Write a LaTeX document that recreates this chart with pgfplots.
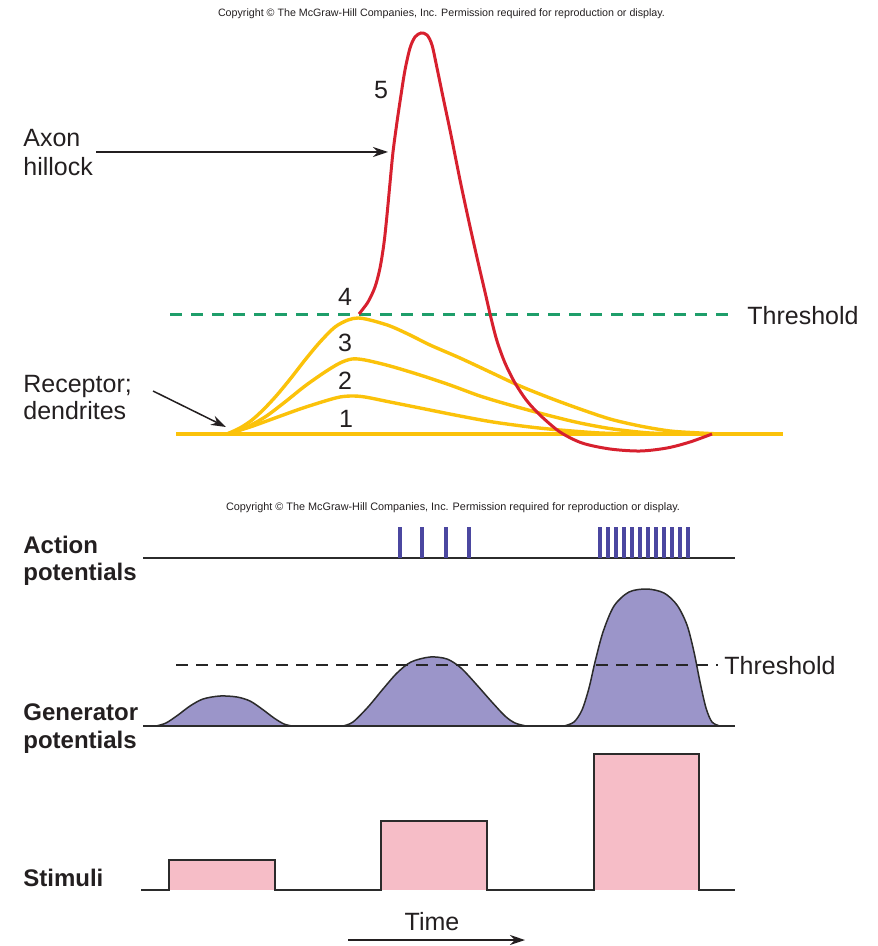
\documentclass[border=0pt]{standalone}
\usepackage{pgfplots}
\pgfplotsset{compat=1.18}
\usepackage{fontspec}
\setmainfont{Liberation Sans}
\usetikzlibrary{arrows.meta}
\definecolor{apred}{HTML}{D7202E}
\definecolor{gold}{HTML}{FBC20A}
\definecolor{thgreen}{HTML}{1E9E6A}
\definecolor{spike}{HTML}{4B47A0}
\definecolor{genfill}{HTML}{9B95C9}
\definecolor{stimfill}{HTML}{F6BDC7}
\definecolor{outline}{HTML}{2B2B2B}
\definecolor{txt}{HTML}{231F20}
\newcommand\lab{\fontsize{12.5}{15}\selectfont}
\newcommand\blab{\fontsize{12}{14}\selectfont\bfseries}
\begin{document}
\begin{tikzpicture}
\begin{axis}[scale only axis, width=438.5pt, height=473pt,
  xmin=0, xmax=877, ymin=0, ymax=946, y dir=reverse,
  hide axis, clip=false, unbounded coords=jump]
\path (axis cs:0,0) rectangle (axis cs:877,946);
% ---------- top panel ----------
% threshold
\addplot[thgreen, line width=1.5pt, dash pattern=on 6pt off 4.5pt] coordinates {(170,315) (736,315)};
% yellow baseline and graded potentials
\addplot[gold, line width=1.7pt] coordinates {(176,434) (783,434)};
\addplot[gold, line width=1.7pt, smooth] coordinates {
(227,434) (240,428) (252,420) (264,409) (277,395) (291,378) (305,360) (320,342) (335,327) (348,320) (358,318) (370,320) (390,326) (410,335) (430,345) (460,358) (490,372) (520,386) (550,398) (580,409) (610,419) (640,426) (670,431) (700,433) (720,434)};
\addplot[gold, line width=1.7pt, smooth] coordinates {
(227,434) (245,428) (265,417) (285,402) (305,386) (325,372) (340,363) (352,359) (365,360) (390,366) (420,375) (450,385) (480,396) (510,405) (547,415) (580,423) (613,429) (650,433) (690,434)};
\addplot[gold, line width=1.7pt, smooth] coordinates {
(227,434) (250,427) (275,418) (300,409) (325,401) (340,397) (352,396) (365,397) (390,402) (420,408) (460,416) (493,422) (530,427) (560,430) (600,433) (640,434)};
% action potential
\addplot[apred, line width=1.5pt, smooth, tension=0.5] coordinates {
(359,314) (368,302) (375,287) (380,268) (384,243) (387,215) (390,183) (393,152) (397,122) (401,95) (405,70) (410,48) (415,37) (421,33) (427,35) (432,45) (437,68) (443,97) (451,135) (460,180) (469,222) (478,262) (485,292) (491,318) (497,341) (505,363) (515,383) (527,401) (541,416) (560,432) (582,443) (610,449) (640,451) (667,448) (690,442) (712,434)};
% labels
\node[anchor=base, inner sep=0] at (axis cs:441.5,17) {\resizebox{223.5pt}{!}{\fontsize{4.8}{6}\selectfont\color{txt}Copyright © The McGraw-Hill Companies, Inc. Permission required for reproduction or display.}};
\node[anchor=base west, inner sep=0, txt] at (axis cs:23,147) {\lab Axon};
\node[anchor=base west, inner sep=0, txt] at (axis cs:23,176) {\lab hillock};
\node[anchor=base west, inner sep=0, txt] at (axis cs:23,392) {\lab Receptor;};
\node[anchor=base west, inner sep=0, txt] at (axis cs:23,419) {\lab dendrites};
\node[anchor=base, inner sep=0, txt] at (axis cs:381,99) {\lab 5};
\node[anchor=base, inner sep=0, txt] at (axis cs:345,306) {\lab 4};
\node[anchor=base, inner sep=0, txt] at (axis cs:345,351) {\lab 3};
\node[anchor=base, inner sep=0, txt] at (axis cs:345,389) {\lab 2};
\node[anchor=base, inner sep=0, txt] at (axis cs:346,427) {\lab 1};
\node[anchor=base west, inner sep=0, txt] at (axis cs:747,324) {\lab Threshold};
\draw[txt, line width=0.75pt, -{Stealth[length=7.5pt, width=5pt]}] (axis cs:96,152) -- (axis cs:388,152);
\draw[txt, line width=0.75pt, -{Stealth[length=7.5pt, width=5pt]}] (axis cs:153,391) -- (axis cs:226,427);
% ---------- bottom panel ----------
\node[anchor=base, inner sep=0] at (axis cs:453,510) {\resizebox{227pt}{!}{\fontsize{4.8}{6}\selectfont\color{txt}Copyright © The McGraw-Hill Companies, Inc. Permission required for reproduction or display.}};
% action potentials
\addplot[outline, line width=0.75pt] coordinates {(143,558) (735,558)};
\addplot[spike, line width=2pt] coordinates {
(400,527) (400,558) (411,nan) (422,527) (422,558) (434,nan) (446,527) (446,558) (458,nan) (469,527) (469,558) (530,nan)
(600,527) (600,558) (604,nan) (608,527) (608,558) (612,nan) (616,527) (616,558) (620,nan) (624,527) (624,558) (628,nan)
(632,527) (632,558) (636,nan) (640,527) (640,558) (644,nan) (648,527) (648,558) (652,nan) (656,527) (656,558) (660,nan)
(664,527) (664,558) (668,nan) (672,527) (672,558) (676,nan) (680,527) (680,558) (684,nan) (688,527) (688,558)};
% generator potentials
\addplot[fill=genfill, draw=outline, line width=0.75pt, smooth] coordinates {
(156,726) (166,723) (178,715) (190,706) (203,699) (220,696) (237,697) (250,701) (262,709) (274,718) (284,724) (292,726)};
\addplot[fill=genfill, draw=outline, line width=0.75pt, smooth] coordinates {
(343,726) (353,722) (368,707) (383,689) (397,673) (411,662) (430,657) (447,659) (461,668) (476,684) (491,701) (505,716) (515,723) (526,726)};
\addplot[fill=genfill, draw=outline, line width=0.75pt, smooth] coordinates {
(564,726) (574,722) (582,710) (589,688) (595,662) (603,632) (614,606) (629,592) (647,589) (664,593) (677,605) (687,625) (694,652) (700,682) (706,708) (712,722) (720,726)};
\addplot[outline, line width=0.75pt] coordinates {(143,726) (735,726)};
\addplot[black!85, line width=1.3pt, dash pattern=on 6pt off 4pt] coordinates {(176,665) (718,665)};
\node[anchor=base west, inner sep=0, txt] at (axis cs:724,674) {\lab Threshold};
% stimuli
\addplot[fill=stimfill, draw=none] coordinates {(169,890) (169,860) (275,860) (275,890)};
\addplot[fill=stimfill, draw=none] coordinates {(381,890) (381,821) (487,821) (487,890)};
\addplot[fill=stimfill, draw=none] coordinates {(594,890) (594,754) (699,754) (699,890)};
\addplot[outline, line width=0.75pt] coordinates {(141,890) (169,890) (169,860) (275,860) (275,890) (381,890) (381,821) (487,821) (487,890) (594,890) (594,754) (699,754) (699,890) (735,890)};
% left labels
\node[anchor=base west, inner sep=0, txt] at (axis cs:23,553) {\blab Action};
\node[anchor=base west, inner sep=0, txt] at (axis cs:23,580) {\blab potentials};
\node[anchor=base west, inner sep=0, txt] at (axis cs:23,720) {\blab Generator};
\node[anchor=base west, inner sep=0, txt] at (axis cs:23,748) {\blab potentials};
\node[anchor=base west, inner sep=0, txt] at (axis cs:23,886) {\blab Stimuli};
% time
\node[anchor=base, inner sep=0, txt] at (axis cs:432,930) {\lab Time};
\draw[txt, line width=0.75pt, -{Stealth[length=7.5pt, width=5pt]}] (axis cs:348,940) -- (axis cs:525,940);
\end{axis}
\end{tikzpicture}
\end{document}
